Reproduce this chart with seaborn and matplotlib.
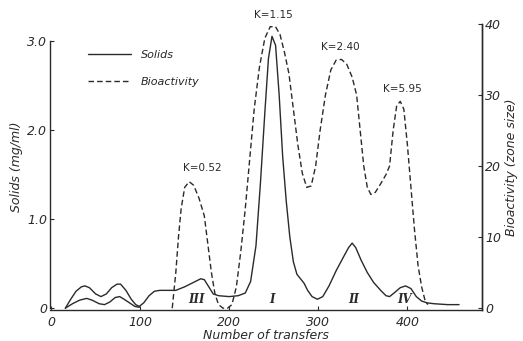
import matplotlib
matplotlib.use("Agg")
import matplotlib.pyplot as plt
from matplotlib.lines import Line2D
import seaborn as sns

# solids (mg/ml) - main trace
solids_x = [16, 22, 28, 34, 38, 43, 50, 56, 62, 68, 74, 78, 84, 90, 95, 99, 104, 110, 116,
            122, 130, 140, 150, 160, 168, 172, 177, 182, 188, 200, 210, 218, 224, 230, 235,
            240, 244, 248, 252, 256, 260, 264, 268, 272, 276, 280, 284, 288, 293, 299, 305,
            312, 320, 328, 334, 338, 342, 348, 355, 362, 370, 376, 380, 385, 392, 398, 404,
            410, 416, 422, 430, 445, 458]
solids_y = [0, 0.1, 0.19, 0.24, 0.25, 0.23, 0.16, 0.13, 0.16, 0.23, 0.27, 0.27, 0.2, 0.1,
            0.04, 0.02, 0.06, 0.14, 0.19, 0.2, 0.2, 0.2, 0.24, 0.29, 0.33, 0.32, 0.24, 0.16,
            0.14, 0.13, 0.14, 0.17, 0.3, 0.7, 1.4, 2.2, 2.8, 3.05, 2.95, 2.4, 1.7, 1.2, 0.8,
            0.52, 0.38, 0.33, 0.28, 0.2, 0.13, 0.1, 0.13, 0.25, 0.42, 0.57, 0.68, 0.73, 0.68,
            0.54, 0.4, 0.29, 0.2, 0.14, 0.13, 0.17, 0.23, 0.25, 0.22, 0.13, 0.08, 0.06, 0.05,
            0.04, 0.04]

# solids - lower loop at the start
loop_x = [16, 24, 32, 40, 46, 54, 60, 66, 72, 77, 82, 88, 94, 99]
loop_y = [0, 0.05, 0.09, 0.11, 0.09, 0.05, 0.04, 0.07, 0.12, 0.13, 0.1, 0.06, 0.02, 0.01]

# bioactivity (zone size)
bio_x = [136, 140, 143, 146, 150, 155, 160, 166, 172, 176, 180, 184, 188, 193, 198, 203,
         208, 213, 218, 223, 228, 234, 240, 246, 252, 257, 262, 267, 272, 277, 282, 287,
         292, 297, 302, 308, 314, 320, 326, 332, 338, 343, 347, 351, 355, 359, 364, 370,
         376, 380, 384, 388, 392, 396, 400, 404, 408, 412, 416, 420, 423]
bio_y = [0, 5, 10, 14, 17, 17.8, 17.3, 15.5, 13, 9, 5, 2, 0.5, 0, 0, 0.5, 3, 8, 14, 21, 28,
         34, 38, 39.6, 39.6, 38.5, 36, 33, 28, 23, 19, 17, 17.2, 20, 25, 30, 33.5, 34.9, 35,
         34.3, 32.5, 30, 25, 20, 17, 16, 16.3, 17.5, 18.8, 20, 25, 28.5, 29.1, 28, 23, 17,
         11, 6, 3, 1, 0.5]

k_labels = ["K=0.52", "K=1.15", "K=2.40", "K=5.95"]
k_pos = [(170, 19.0), (250, 40.6), (325, 36.0), (394, 30.1)]
fractions = ["III", "I", "II", "IV"]
fraction_x = [163, 248, 340, 397]

sns.set_style("ticks")
plt.rcParams["font.family"] = ["DejaVu Sans"]
ink = "#2a2a2a"

fig = plt.figure(figsize=(5.23, 3.41), dpi=100)
ax = fig.add_axes([0.096, 0.091, 0.826, 0.839])
ax2 = ax.twinx()

sns.lineplot(x=solids_x, y=solids_y, ax=ax, color=ink, lw=1.0, estimator=None)
sns.lineplot(x=loop_x, y=loop_y, ax=ax, color=ink, lw=1.0, estimator=None)
sns.lineplot(x=bio_x, y=bio_y, ax=ax2, color=ink, lw=1.0, estimator=None,
             linestyle=(0, (4, 2.2)))

ax.set_xlim(-1, 484)
ax.set_ylim(-0.02, 3.19)
ax2.set_ylim(-0.25, 40.0)

ax.set_xticks([0, 100, 200, 300, 400])
ax.set_yticks([0, 1, 2, 3])
ax.set_yticklabels(["0", "1.0", "2.0", "3.0"])
ax2.set_yticks([0, 10, 20, 30, 40])
ax.spines["left"].set_bounds(0, 3.0)

for a in (ax, ax2):
    a.spines["top"].set_visible(False)
    for s in a.spines.values():
        s.set_color(ink)
        s.set_linewidth(1.0)
    a.tick_params(colors=ink, length=3, width=0.8, labelsize=9, direction="in", pad=2)
    for lab in a.get_xticklabels() + a.get_yticklabels():
        lab.set_style("italic")
ax.tick_params(axis="x", pad=4)
ax2.spines["left"].set_visible(False)
ax2.spines["bottom"].set_visible(False)

ax.set_xlabel("Number of transfers", fontsize=9, style="italic", color=ink, labelpad=0)
ax.set_ylabel("Solids (mg/ml)", fontsize=9, style="italic", color=ink, labelpad=3)
ax2.set_ylabel("Bioactivity (zone size)", fontsize=9, style="italic", color=ink, labelpad=3)

for lab, (kx, ky) in zip(k_labels, k_pos):
    ax2.text(kx, ky, lab, fontsize=7.5, color=ink, ha="center", va="bottom")
for lab, fx in zip(fractions, fraction_x):
    ax.text(fx, 0.03, lab, fontsize=8.5, color=ink, ha="center", va="bottom",
            family="DejaVu Serif", weight="bold", style="italic")

handles = [Line2D([], [], color=ink, lw=1.0),
           Line2D([], [], color=ink, lw=1.0, linestyle=(0, (4, 2.2)))]
ax.legend(handles, ["Solids", "Bioactivity"], loc="upper left", bbox_to_anchor=(0.065, 0.945),
          frameon=False, handlelength=3.8, handletextpad=0.9, labelspacing=1.55,
          prop={"style": "italic", "size": 8})

fig.savefig("out.png", dpi=100)
